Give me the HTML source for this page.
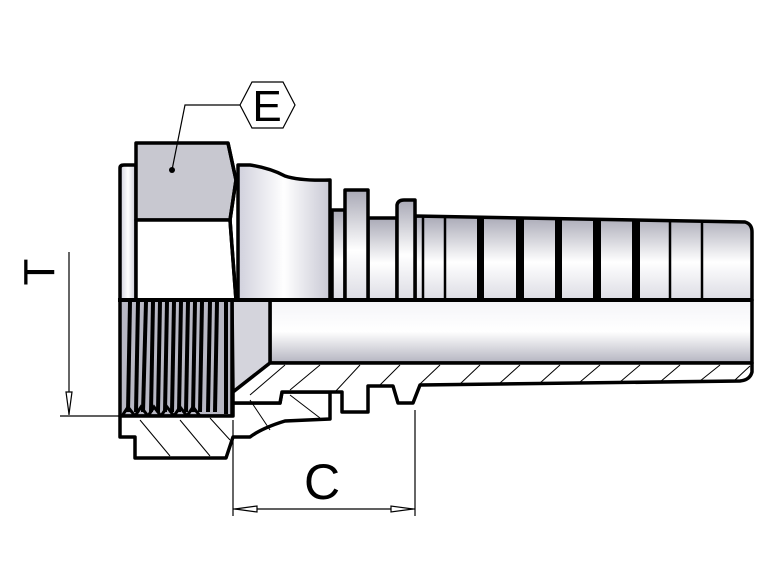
<!DOCTYPE html>
<html><head><meta charset="utf-8"><style>html,body{margin:0;padding:0;background:#fff}svg{display:block}</style></head>
<body>
<svg width="780" height="585" viewBox="0 0 780 585" xmlns="http://www.w3.org/2000/svg">
<defs>
<linearGradient id="g" x1="0" y1="0" x2="0" y2="1">
<stop offset="0" stop-color="#a9a9b6"/><stop offset="0.55" stop-color="#ffffff"/><stop offset="1" stop-color="#dcdce4"/>
</linearGradient>
<linearGradient id="gb" x1="0" y1="0" x2="0" y2="1">
<stop offset="0" stop-color="#f4f4f8"/><stop offset="0.5" stop-color="#ffffff"/><stop offset="1" stop-color="#b4b4c0"/>
</linearGradient>
<linearGradient id="gh" x1="0" y1="0" x2="1" y2="0">
<stop offset="0" stop-color="#d0d0dc"/><stop offset="0.5" stop-color="#ffffff"/><stop offset="1" stop-color="#c8c8d4"/>
</linearGradient>
</defs>
<g stroke="#000" stroke-width="3.5" stroke-linejoin="round">
<path d="M415,216 L745,222 Q752,224 752,232 L752,300 L415,300 Z" fill="url(#g)"/>
<path d="M368,300 L368,218 L397,218 L397,300 Z" fill="url(#g)"/>
<path d="M397,300 L397,205 Q398,200 404,200 L415,200 L415,300 Z" fill="url(#g)"/>
<path d="M332,300 L332,210 L345,210 L345,300 Z" fill="url(#g)"/>
<path d="M345,300 L345,190 L368,190 L368,300 Z" fill="url(#g)"/>
<path d="M238,300 L238,165 L250,165 Q270,168 285,176 Q300,181 330,180 L330,300 Z" fill="url(#gh)"/>
<path d="M120,300 L120,168 Q120,165 124,165 L136,165 L136,300 Z" fill="url(#gh)"/>
<path d="M136,143 L228,143 L236,180 L230,220 L136,220 Z" fill="#c8c8d0"/>
<path d="M136,220 L230,220 L236,300 L136,300 Z" fill="#fff"/>
<path d="M228,143 L236,180 L230,220 L236,300" fill="none"/>
<rect x="270" y="300" width="482" height="63" fill="url(#gb)"/>
<path d="M232,300 L270,300 L270,363 L233,392 Z" fill="#d4d4dc"/>
<rect x="120" y="300" width="112" height="116" fill="#b8b8c4"/>
</g>
<g fill="#000">
<rect x="477" y="218" width="7" height="82"/><rect x="516" y="219" width="8" height="81"/>
<rect x="555" y="219" width="7" height="81"/><rect x="593" y="220" width="8" height="80"/>
<rect x="632" y="220" width="8" height="80"/>
</g>
<g stroke="#000" stroke-width="2.5">
<line x1="445" y1="218" x2="445" y2="300"/><line x1="670" y1="221" x2="670" y2="300"/><line x1="702" y1="222" x2="702" y2="300"/>
<line x1="423" y1="217" x2="423" y2="300"/>
</g>
<g stroke="#000" stroke-width="4">
<line x1="130" y1="302" x2="128" y2="412"/><line x1="138" y1="302" x2="136" y2="412"/><line x1="146" y1="302" x2="143" y2="412"/>
<line x1="153" y1="302" x2="151" y2="412"/><line x1="160" y1="302" x2="158" y2="412"/><line x1="167" y1="302" x2="165" y2="412"/>
<line x1="174" y1="302" x2="172" y2="412"/><line x1="181" y1="302" x2="179" y2="412"/><line x1="188" y1="302" x2="186" y2="412"/>
<line x1="195" y1="302" x2="193" y2="412"/><line x1="202" y1="302" x2="200" y2="412"/><line x1="210" y1="302" x2="208" y2="412"/>
<line x1="217" y1="302" x2="215" y2="412"/><line x1="226" y1="302" x2="226" y2="414"/>
</g>
<path d="M122,416 L128,407 L135,416 L141,407 L148,416 L154,407 L161,416 L167,407 L174,416 L180,407 L187,416 L193,407 L200,416 L232,416" fill="none" stroke="#000" stroke-width="3"/>
<g stroke="#000" stroke-width="3.5" fill="#fff" stroke-linejoin="round">
<path d="M120,416 L120,437 L135,437 L135,458 L226,458 L233,437 L250,437 Q262,428 285,421 L330,419 L330,392 L282,392 L280,403 L233,403 L233,416 Z"/>
<path d="M270,363 L752,363 L752,372 Q750,380 740,381 L420,385 L413,403 L398,403 L393,386 L368,386 L368,412 L342,412 L342,392 L282,392 L280,403 L233,403 L233,392 Z"/>
</g>
<g stroke="#000" stroke-width="1">
<line x1="140" y1="420" x2="170" y2="456"/><line x1="180" y1="420" x2="210" y2="456"/><line x1="210" y1="418" x2="230" y2="440"/>
<line x1="250" y1="400" x2="270" y2="430"/><line x1="290" y1="395" x2="320" y2="418"/>
<line x1="250" y1="395" x2="285" y2="365"/><line x1="290" y1="390" x2="320" y2="365"/><line x1="335" y1="392" x2="360" y2="365"/>
<line x1="380" y1="385" x2="400" y2="365"/><line x1="420" y1="384" x2="440" y2="365"/><line x1="460" y1="384" x2="480" y2="365"/>
<line x1="500" y1="383" x2="520" y2="365"/><line x1="540" y1="383" x2="560" y2="365"/><line x1="580" y1="382" x2="600" y2="365"/>
<line x1="620" y1="382" x2="640" y2="365"/><line x1="660" y1="382" x2="680" y2="365"/><line x1="700" y1="381" x2="720" y2="365"/>
<line x1="735" y1="380" x2="750" y2="366"/>
</g>
<line x1="118" y1="300" x2="752" y2="300" stroke="#000" stroke-width="4"/>
<g stroke="#000" stroke-width="1.2" fill="none">
<line x1="69" y1="252" x2="69" y2="415"/><line x1="60" y1="416" x2="120" y2="416"/>
<path d="M66,392 L72,392 L69,414 Z" fill="#fff"/>
<line x1="233" y1="420" x2="233" y2="516"/><line x1="415" y1="410" x2="415" y2="516"/>
<line x1="233" y1="509" x2="415" y2="509"/>
<path d="M235,509 L257,506 L257,512 Z" fill="#fff"/><path d="M413,509 L391,506 L391,512 Z" fill="#fff"/>
<polyline points="240,105 185,105 172,170"/>
<polygon points="240,105 252,82 283,82 295,105 283,128 252,128"/>
</g>
<circle cx="172" cy="170" r="3" fill="#000"/>
<g font-family="Liberation Sans, sans-serif" fill="#000" text-anchor="middle">
<text x="267" y="121" font-size="44">E</text>
<text x="322" y="499" font-size="50">C</text>
<text transform="translate(54,272) rotate(-90)" font-size="44">T</text>
</g>
</svg>
</body></html>
